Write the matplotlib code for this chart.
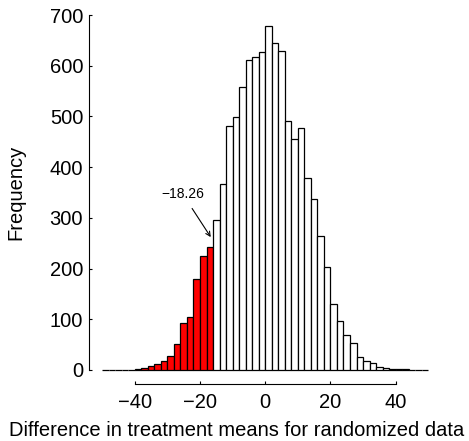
import matplotlib
matplotlib.use("Agg")
import matplotlib.pyplot as plt
import numpy as np

plt.rcParams["font.family"] = ["Liberation Sans", "DejaVu Sans"]

# histogram of randomized differences, bins of width 2 from -50 to 50
bin_edges = list(range(-50, 52, 2))
counts = [
    0, 0, 0, 0, 0, 1, 3, 7, 11, 18,
    27, 52, 92, 105, 179, 224, 243, 295, 367, 482,
    498, 559, 611, 617, 627, 678, 644, 629, 491, 455,
    478, 379, 337, 264, 203, 131, 96, 69, 53, 26,
    18, 14, 6, 3, 2, 1, 1, 0, 0, 0,
]
shade_to = -16          # bins at or below this edge are filled red
label_pos = (-25.3, 347)
arrow_tip = (-16.7, 262)

x_ticks = [-40, -20, 0, 20, 40]
y_ticks = [0, 100, 200, 300, 400, 500, 600, 700]

fig = plt.figure(figsize=(4.69, 4.41), dpi=100)
ax = fig.add_axes([0.190, 0.129, 0.751, 0.869])

left = np.array(bin_edges[:-1])
colors = ["red" if l + 2 <= shade_to else "white" for l in left]
ax.bar(left, counts, width=2, align="edge", color=colors,
       edgecolor="black", linewidth=0.9)

ax.annotate("\u221218.26", xy=arrow_tip, xytext=label_pos,
            ha="center", va="center", fontsize=10,
            arrowprops=dict(arrowstyle="->", lw=0.8, color="black",
                            shrinkA=4, shrinkB=0, mutation_scale=8))

ax.set_xlim(-54, 54)
ax.set_ylim(-28, 728)
ax.set_xticks(x_ticks)
ax.set_yticks(y_ticks)
ax.tick_params(axis="both", labelsize=14.5, length=2.3, width=0.8,
               color="black", direction="in")
ax.tick_params(axis="y", pad=4.3)
ax.tick_params(axis="x", pad=6.5)

for s in ["top", "right"]:
    ax.spines[s].set_visible(False)
ax.spines["left"].set_bounds(0, 700)
ax.spines["bottom"].set_bounds(-40, 40)
ax.spines["left"].set_linewidth(0.8)
ax.spines["bottom"].set_linewidth(0.8)

ax.set_xlabel("Difference in treatment means for randomized data",
              fontsize=14.5)
ax.set_ylabel("Frequency", fontsize=14.5)
ax.xaxis.set_label_coords(0.42, -0.12)
ax.yaxis.set_label_coords(-0.209, 0.5)
ax.xaxis.label.set_va("center")
ax.yaxis.label.set_va("center")

fig.savefig("out.png", dpi=100)
